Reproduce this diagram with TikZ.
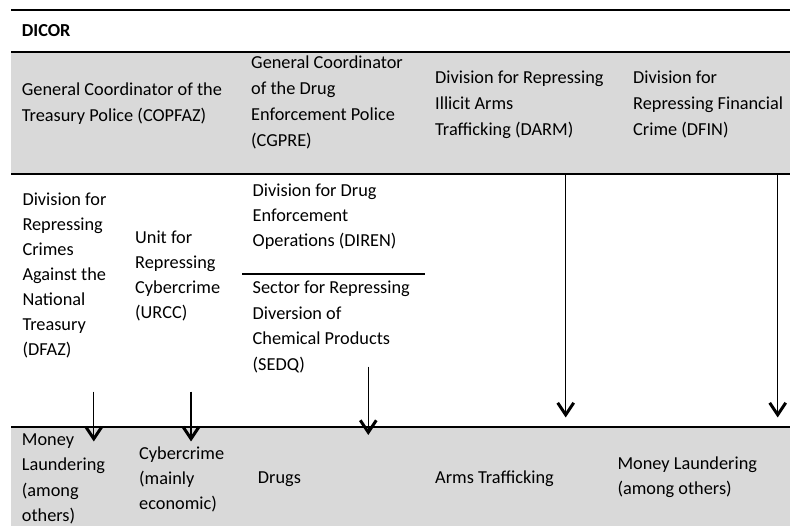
\documentclass[tikz,border=0pt]{standalone}
\usepackage{fontspec}
\setmainfont{Carlito}
\usetikzlibrary{arrows.meta}
\definecolor{bandgray}{HTML}{D9D9D9}
\begin{document}
\begin{tikzpicture}[x=1pt,y=-1pt,
  txttop/.style={anchor=north west,inner sep=0pt,align=left,font=\fontsize{18.3}{26}\selectfont,execute at begin node=\strut},
  txtmid/.style={anchor=north west,inner sep=0pt,align=left,font=\fontsize{18.3}{25}\selectfont,execute at begin node=\strut},
  rule/.style={line width=2pt},
  band/.style={fill=bandgray,draw=none},
  arr/.style={line width=1.2pt,-{Straight Barb[length=12pt,width=16pt,line width=3pt]}}]
\useasboundingbox (0,0) rectangle (790,526);
% bands
\fill[band] (11,53) rectangle (790,174);
\fill[band] (11,428) rectangle (790,526);
% rules
\draw[rule] (11,10) -- (790,10);
\draw[rule] (11,52.5) -- (790,52.5);
\draw[rule] (11,174) -- (790,174);
\draw[rule] (11,427.5) -- (790,427.5);
\draw[line width=1.6pt] (242,274) -- (425,274);
% title
\node[txttop,font=\fontsize{18.3}{26}\selectfont\bfseries] (dicor) at (21.7,18) {DICOR};
% top band
\node[txttop] (copfaz) at (21.7,82.3) {General Coordinator of the\\Treasury Police (COPFAZ)};
\node[txttop] (cgpre) at (251,55.5) {General Coordinator\\of the Drug\\Enforcement Police\\(CGPRE)};
\node[txttop] (darm) at (435,70.5) {Division for Repressing\\Illicit Arms\\Trafficking (DARM)};
\node[txttop] (dfin) at (633,70.5) {Division for\\Repressing Financial\\Crime (DFIN)};
% middle
\node[txtmid] (dfaz) at (22.3,192.5) {Division for\\Repressing\\Crimes\\Against the\\National\\Treasury\\(DFAZ)};
\node[txtmid] (urcc) at (135,230.3) {Unit for\\Repressing\\Cybercrime\\(URCC)};
\node[txtmid] (diren) at (252.5,183.8) {Division for Drug\\Enforcement\\Operations (DIREN)};
\node[txtmid,font=\fontsize{18.3}{25.5}\selectfont] (sedq) at (252.5,281) {Sector for Repressing\\Diversion of\\Chemical Products\\(SEDQ)};
% bottom band
\node[txtmid,font=\fontsize{18.3}{25.3}\selectfont] (ml1) at (21.7,433.5) {Money\\Laundering\\(among\\others)};
\node[txtmid] (cyb) at (139,446.5) {Cybercrime\\(mainly\\economic)};
\node[txtmid] (drugs) at (257.7,466.2) {Drugs};
\node[txtmid] (arms) at (435,466.2) {Arms Trafficking};
\node[txtmid] (ml2) at (617.3,457) {Money Laundering\\(among others)};
% connectors
\coordinate (a1s) at (93.8,391.7); \coordinate (a1e) at (93.8,441.5);
\coordinate (a2s) at (191,391.7);  \coordinate (a2e) at (191,441.5);
\coordinate (a3s) at (368.3,366.7); \coordinate (a3e) at (368.3,435);
\coordinate (a4s) at (565.7,175); \coordinate (a4e) at (565.7,417.5);
\coordinate (a5s) at (777.7,175); \coordinate (a5e) at (777.7,417.5);
\draw[arr] (a1s) -- (a1e);
\draw[arr] (a2s) -- (a2e);
\draw[arr] (a3s) -- (a3e);
\draw[arr] (a4s) -- (a4e);
\draw[arr] (a5s) -- (a5e);
\end{tikzpicture}
\end{document}
